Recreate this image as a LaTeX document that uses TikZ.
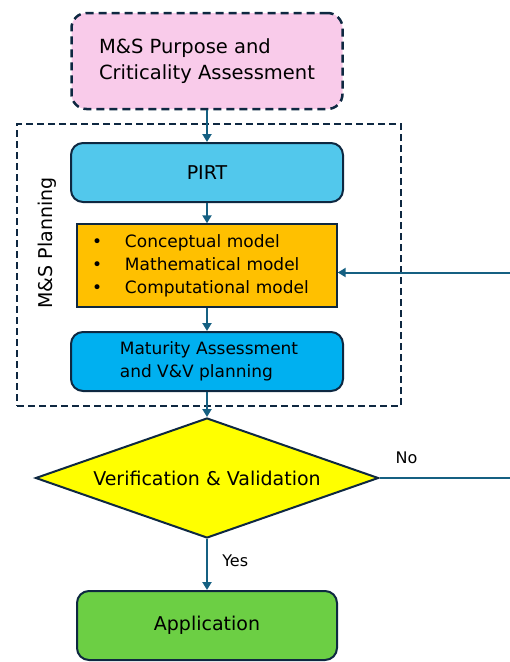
\documentclass[tikz,border=0pt]{standalone}
\usepackage{fontspec}
\setmainfont{DejaVu Sans}
\usetikzlibrary{shapes.geometric, arrows.meta}

\definecolor{edgenavy}{HTML}{0E2841}
\definecolor{linkblue}{HTML}{156082}
\definecolor{purposepink}{HTML}{F9CBEA}
\definecolor{pirtblue}{HTML}{52C8EC}
\definecolor{modelorange}{HTML}{FFC000}
\definecolor{maturityblue}{HTML}{00B0F0}
\definecolor{vvyellow}{HTML}{FFFF00}
\definecolor{appgreen}{HTML}{6CCF44}

\begin{document}
\begin{tikzpicture}[
    x=1pt, y=-1pt,
    line width=2pt,
    block/.style={rectangle, rounded corners=12pt, draw=edgenavy, minimum width=272pt, minimum height=59pt, font=\fontsize{17}{23}\selectfont, align=left},
    modelbox/.style={rectangle, draw=edgenavy, line width=1.4pt, fill=modelorange, text width=230pt, inner xsep=15pt, minimum height=83pt, font=\fontsize{17}{23}\selectfont, align=left},
    decision/.style={diamond, aspect=2.86, draw=edgenavy, fill=vvyellow, inner sep=0pt, minimum width=343pt, minimum height=120pt, font=\fontsize{19}{23}\selectfont},
    link/.style={draw=linkblue, line width=2pt, -{Triangle[length=8pt, width=9pt]}},
    link_label/.style={font=\fontsize{16}{18}\selectfont, text=black}
]

    % page frame
    \useasboundingbox (0,0) rectangle (510,662);
    \clip (0,0) rectangle (510,662);

    % M&S planning frame and its side label
    \node[rectangle, draw=edgenavy, dashed, dash pattern=on 7pt off 4pt, minimum width=384pt, minimum height=282pt] (frame) at (209,265) {};
    \node[rotate=90, font=\fontsize{19}{22}\selectfont] (planning) at (47,243) {M\&S Planning};

    % Define nodes for the flow
    \node[block, fill=purposepink, dashed, dash pattern=on 8pt off 5pt, line width=2.5pt, rounded corners=15pt, minimum width=271pt, minimum height=96pt, font=\fontsize{19.5}{26}\selectfont] (purpose) at (207,61) {M\&S Purpose and\\Criticality Assessment};
    \node[block, fill=pirtblue, font=\fontsize{19}{23}\selectfont] (pirt) at (207,172.5) {PIRT};
    \node[modelbox] (models) at (207,265.5) {\makebox[33pt][l]{\textbullet}Conceptual model\\\makebox[33pt][l]{\textbullet}Mathematical model\\\makebox[33pt][l]{\textbullet}Computational model};
    \node[block, fill=maturityblue] (maturity) at (207,361.5) {\hspace*{4pt}Maturity Assessment\\\hspace*{4pt}and V\&V planning};
    \node[decision] (vv) at (207,478) {Verification \& Validation};
    \node[block, fill=appgreen, minimum width=260pt, minimum height=69pt, font=\fontsize{19}{23}\selectfont] (application) at (207,625.5) {Application};

    % Draw arrows between the steps
    \draw[link] (purpose) -- (pirt);
    \draw[link] (pirt) -- (models);
    \draw[link] (models) -- (maturity);
    \draw[link] (maturity) -- (vv);
    \draw[link] (vv) -- node[link_label, right, pos=0.42, xshift=11pt] {Yes} (application);

    % Feedback loop when V&V fails
    \draw[link] (vv.east) -- node[link_label, above, pos=0.18, yshift=10pt] {No} ++(150,0) |- ([yshift=-7pt]models.east);

\end{tikzpicture}
\end{document}
